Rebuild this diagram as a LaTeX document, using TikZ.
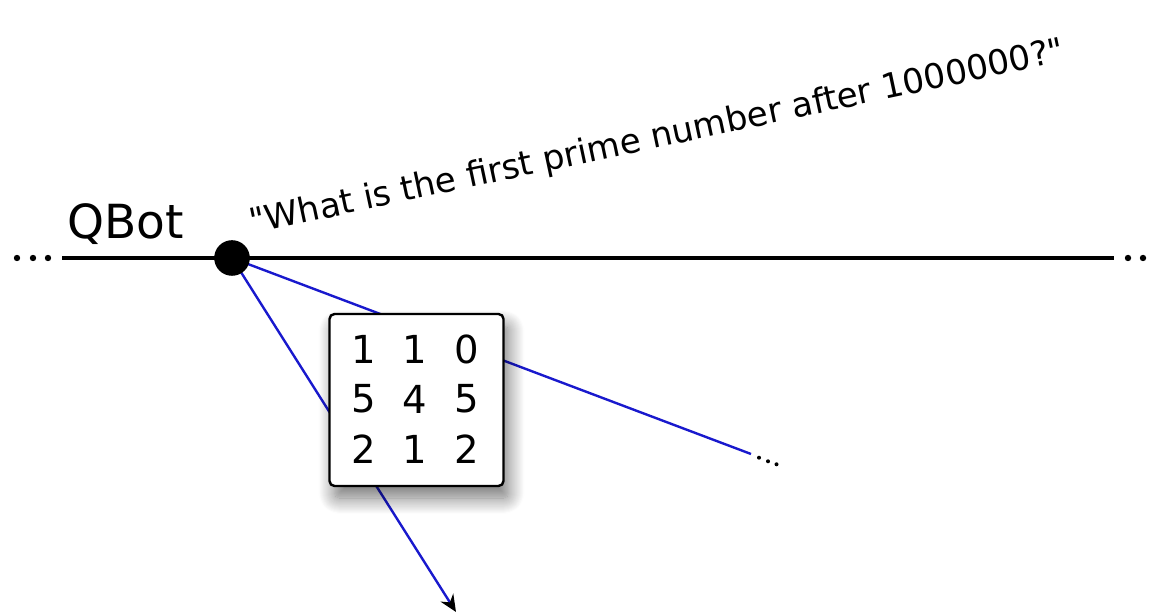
\documentclass[tikz,border=0pt]{standalone}
\usepackage{fontspec}
\setmainfont{DejaVu Sans}
\usetikzlibrary{arrows.meta,shadows.blur}
\definecolor{qblue}{RGB}{25,25,205}
\begin{document}
\begin{tikzpicture}[x=0.5pt,y=-0.5pt,
  axis/.style={line width=2pt,black},
  link/.style={line width=1.2pt,qblue},
  bigdot/.style={circle,fill=black,inner sep=0pt,minimum size=17.8pt},
  enddot/.style={circle,fill=black,inner sep=0pt,minimum size=3.2pt},
  smalldot/.style={circle,fill=black,inner sep=0pt,minimum size=2pt},
  digit/.style={inner sep=0pt,font=\fontsize{19.3pt}{20pt}\selectfont},
  matbox/.style={draw=black,line width=1.2pt,rounded corners=2.5pt,fill=white,
    minimum width=87pt,minimum height=86pt,inner sep=0pt,
    blur shadow={shadow xshift=2.5pt,shadow yshift=-6pt,shadow blur radius=8pt,shadow blur steps=16,shadow opacity=55}}
]
\useasboundingbox (0,0) rectangle (1151,613);

\node[circle,inner sep=0pt,minimum size=17.8pt] (bot) at (232,258) {};

\coordinate (lstart) at (62,258);
\coordinate (lend) at (1114,258);
\coordinate (endA) at (751,454);
\coordinate (endB) at (456,612);

\draw[axis] (lstart) -- (lend);
\draw[link] (bot.center) -- (endA);
\draw[link,-{Stealth[length=8.5pt,width=7.5pt,inset=2.8pt,black]}] (bot.center) -- (endB);

\node[bigdot] (botdot) at (bot.center) {};

\node[enddot] (ld1) at (17,258) {};
\node[enddot] (ld2) at (33,258) {};
\node[enddot] (ld3) at (48,258) {};
\node[enddot] (rd1) at (1128,258) {};
\node[enddot] (rd2) at (1143,258) {};

\node[smalldot] (ad1) at (759,457.7) {};
\node[smalldot] (ad2) at (768,461.3) {};
\node[smalldot] (ad3) at (776.5,464.3) {};

\node[anchor=base west,inner sep=0pt,font=\fontsize{23.5pt}{24pt}\selectfont] (qbot) at (67,239) {QBot};
\node[anchor=base west,inner sep=0pt,rotate=12,font=\fontsize{17.1pt}{18pt}\selectfont] (quote) at (252,234) {\textquotedbl What is the first prime number after 1000000?\textquotedbl};

\node[matbox] (mat) at (416.5,400) {};
\node[digit] (d11) at (364,349) {1};
\node[digit] (d12) at (415,349) {1};
\node[digit] (d13) at (467,349) {0};
\node[digit] (d21) at (364,399) {5};
\node[digit] (d22) at (415,399) {4};
\node[digit] (d23) at (467,399) {5};
\node[digit] (d31) at (364,449) {2};
\node[digit] (d32) at (415,449) {1};
\node[digit] (d33) at (467,449) {2};
\end{tikzpicture}
\end{document}
